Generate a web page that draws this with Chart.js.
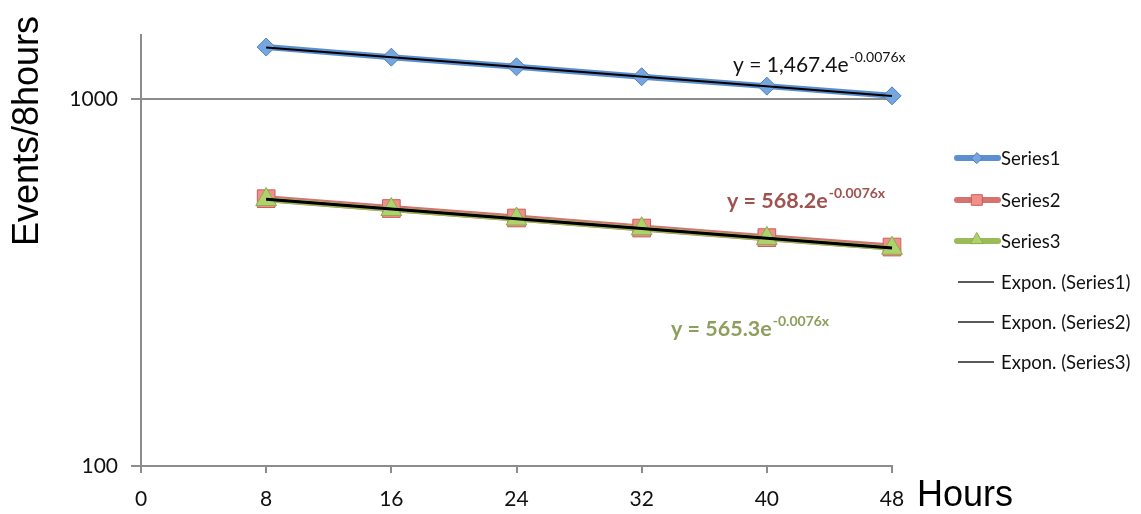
<!DOCTYPE html>
<html>
<head>
<meta charset="utf-8">
<script src="https://cdn.jsdelivr.net/npm/chart.js@4/dist/chart.umd.min.js"></script>
<style>
    html, body { margin: 0; padding: 0; background: #fff; }
    #wrap { width: 1141px; height: 514px; }
</style>
</head>
<body>
<div id="wrap"><canvas id="eventsChart" width="1141" height="514"></canvas></div>
<script>

// ======================================================
// Data
// ======================================================

const hours = [8, 16, 24, 32, 40, 48];

const series1 = [1385, 1300, 1224, 1150, 1084, 1020];

const series2 = [535, 503, 474, 445, 419, 395];

const series3 = [532, 500, 471, 443, 417, 392];

// trendline end points (first and last hour)
const trendHours = [8, 48];

const trend1 = [1381, 1019];

const trend2 = [535, 394];

const trend3 = [532, 392];

const xTicks = [0, 8, 16, 24, 32, 40, 48];

const yTicks = [100, 1000];

const equations = [
    { base: "y = 1,467.4e", exp: "-0.0076x" },
    { base: "y = 568.2e", exp: "-0.0076x" },
    { base: "y = 565.3e", exp: "-0.0076x" }
];

function toPoints(xs, ys) {
    return xs.map((x, i) => ({ x: x, y: ys[i] }));
}

const uiFont = "Lato, 'Open Sans', sans-serif";

// ======================================================
// Extra drawing: axis titles, equations, legend
// ======================================================

const extrasPlugin = {

    id: "extras",

    afterDraw(chart) {

        const ctx = chart.ctx;

        ctx.save();

        // axis titles
        ctx.fillStyle = "#000";
        ctx.font = "36px 'Liberation Sans', Arial, sans-serif";
        ctx.textBaseline = "alphabetic";
        ctx.textAlign = "left";
        ctx.fillText("Hours", 917, 506);

        ctx.save();
        ctx.translate(38, 131);
        ctx.rotate(-Math.PI / 2);
        ctx.textAlign = "center";
        ctx.fillText("Events/8hours", 0, 0);
        ctx.restore();

        // trendline equations
        const eqStyle = [
            { x: 733, y: 72, color: "#111", weight: "normal", size: 21 },
            { x: 727, y: 208, color: "#a0524f", weight: "bold", size: 21.5 },
            { x: 671, y: 336, color: "#8c9f5c", weight: "bold", size: 21.5 }
        ];

        equations.forEach((eq, i) => {
            const s = eqStyle[i];
            ctx.fillStyle = s.color;
            ctx.textAlign = "left";
            ctx.font = s.weight + " " + s.size + "px " + uiFont;
            ctx.fillText(eq.base, s.x, s.y);
            const w = ctx.measureText(eq.base).width;
            ctx.font = s.weight + " 14px " + uiFont;
            ctx.fillText(eq.exp, s.x + w + 1, s.y - 10);
        });

        // legend
        const rows = [158, 200, 241, 282, 322, 362];

        chart.data.datasets.forEach((ds, row) => {

            const y = rows[row];

            if (ds.isTrend) {
                ctx.strokeStyle = "#222";
                ctx.lineWidth = 1.5;
                ctx.lineCap = "butt";
                ctx.beginPath();
                ctx.moveTo(958, y);
                ctx.lineTo(994, y);
                ctx.stroke();
            } else {
                ctx.strokeStyle = ds.borderColor;
                ctx.lineWidth = 6;
                ctx.lineCap = "round";
                ctx.beginPath();
                ctx.moveTo(957, y);
                ctx.lineTo(998, y);
                ctx.stroke();
                ctx.fillStyle = ds.pointBackgroundColor;
                ctx.strokeStyle = ds.pointBorderColor;
                ctx.lineWidth = 1;
                Chart.helpers.drawPoint(ctx, {
                    pointStyle: ds.pointStyle,
                    radius: ds.pointRadius * 0.6,
                    rotation: 0,
                    borderWidth: 1
                }, 977, y - (ds.pointStyle === "triangle" ? 1 : 0));
            }

            ctx.fillStyle = "#111";
            ctx.font = "18.5px " + uiFont;
            ctx.textAlign = "left";
            ctx.textBaseline = "middle";
            ctx.fillText(ds.label, 1001, y + 1);
            ctx.textBaseline = "alphabetic";
        });

        ctx.restore();
    }
};

// ======================================================
// Chart
// ======================================================

const canvas = document.querySelector("#eventsChart");

const eventsChart = new Chart(canvas, {

    type: "line",

    data: {

        datasets: [

            {
                label: "Series1",
                data: toPoints(hours, series1),
                borderColor: "#5b8fcf",
                borderWidth: 6,
                pointStyle: "rectRot",
                pointRadius: 9,
                pointBackgroundColor: "#75a6e0",
                pointBorderColor: "#4f7fba",
                pointBorderWidth: 1,
                clip: false,
                order: 5
            },

            {
                label: "Series2",
                data: toPoints(hours, series2),
                borderColor: "#d47370",
                borderWidth: 7,
                pointStyle: "rect",
                pointRadius: 12.5,
                pointBackgroundColor: "#f28f89",
                pointBorderColor: "#c4615d",
                pointBorderWidth: 1,
                clip: false,
                order: 4
            },

            {
                label: "Series3",
                data: toPoints(hours, series3),
                borderColor: "#9bbb59",
                borderWidth: 5,
                pointStyle: "triangle",
                pointRadius: 12,
                pointBackgroundColor: "#aed36c",
                pointBorderColor: "#8daa50",
                pointBorderWidth: 1,
                clip: false,
                order: 3
            },

            {
                label: "Expon. (Series1)",
                isTrend: true,
                data: toPoints(trendHours, trend1),
                borderColor: "#000",
                borderWidth: 2,
                pointRadius: 0,
                clip: false,
                order: 2
            },

            {
                label: "Expon. (Series2)",
                isTrend: true,
                data: toPoints(trendHours, trend2),
                borderColor: "#000",
                borderWidth: 2,
                pointRadius: 0,
                clip: false,
                order: 1
            },

            {
                label: "Expon. (Series3)",
                isTrend: true,
                data: toPoints(trendHours, trend3),
                borderColor: "#000",
                borderWidth: 2.5,
                pointRadius: 0,
                clip: false,
                order: 0
            }
        ]
    },

    options: {

        responsive: false,

        animation: false,

        layout: {
            padding: { top: 35, right: 249, left: 0, bottom: 0 }
        },

        plugins: {
            legend: { display: false },
            tooltip: { enabled: false }
        },

        elements: {
            line: { tension: 0 }
        },

        scales: {

            x: {
                type: "linear",
                min: 0,
                max: 48,
                afterBuildTicks(scale) {
                    scale.ticks = xTicks.map(v => ({ value: v }));
                },
                afterFit(scale) {
                    scale.height = 48;
                },
                grid: {
                    drawOnChartArea: false,
                    drawTicks: true,
                    tickLength: 7,
                    color: "#8c8c8c",
                    lineWidth: 2
                },
                border: { color: "#8c8c8c", width: 2 },
                ticks: {
                    padding: 14,
                    color: "#111",
                    font: { family: uiFont, size: 21 },
                    maxRotation: 0
                }
            },

            y: {
                type: "logarithmic",
                min: 100,
                max: 1494,
                afterBuildTicks(scale) {
                    scale.ticks = yTicks.map(v => ({ value: v }));
                },
                afterFit(scale) {
                    scale.width = 141;
                },
                grid: {
                    color: "#8c8c8c",
                    lineWidth: 2,
                    tickLength: 10
                },
                border: { color: "#8c8c8c", width: 2 },
                ticks: {
                    padding: 13,
                    color: "#111",
                    font: { family: uiFont, size: 21 },
                    callback: v => String(v)
                }
            }
        }
    },

    plugins: [extrasPlugin]
});

</script>
</body>
</html>
